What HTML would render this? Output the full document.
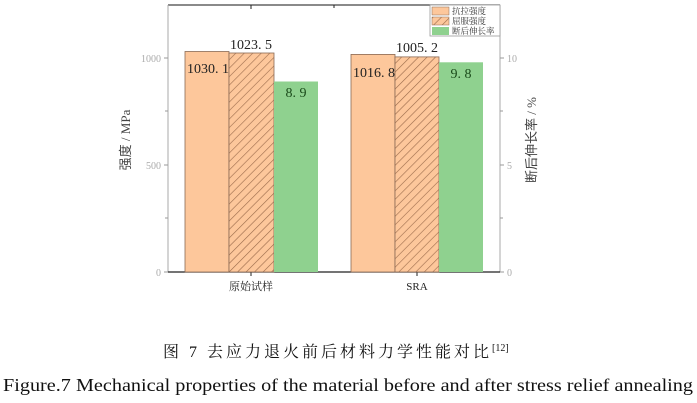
<!DOCTYPE html>
<html><head><meta charset="utf-8"><style>body{margin:0;background:#fff}svg{display:block}</style></head>
<body>
<svg width="697" height="403" xmlns="http://www.w3.org/2000/svg">
<defs><pattern id="h" patternUnits="userSpaceOnUse" width="6" height="6" patternTransform="rotate(45)"><rect width="6" height="6" fill="#fdc79b"/><line x1="0" y1="0" x2="0" y2="6" stroke="#9a6a4a" stroke-width="1.2"/></pattern></defs>
<g font-family="Liberation Serif, serif">
<line x1="168" y1="5" x2="500" y2="5" stroke="#444" stroke-width="1.2"/>
<line x1="168" y1="5" x2="168" y2="272" stroke="#aaa" stroke-width="1"/>
<line x1="500" y1="5" x2="500" y2="272" stroke="#aaa" stroke-width="1"/>
<line x1="168" y1="272" x2="500" y2="272" stroke="#222" stroke-width="1.3"/>
<g stroke="#999"><line x1="164" y1="58" x2="168" y2="58"/><line x1="164" y1="165" x2="168" y2="165"/><line x1="164" y1="272" x2="168" y2="272"/><line x1="165" y1="111" x2="168" y2="111"/><line x1="165" y1="218" x2="168" y2="218"/>
<line x1="500" y1="58" x2="504" y2="58"/><line x1="500" y1="165" x2="504" y2="165"/><line x1="500" y1="272" x2="504" y2="272"/><line x1="500" y1="111" x2="503" y2="111"/><line x1="500" y1="218" x2="503" y2="218"/></g>
<g stroke="#222"><line x1="251" y1="272" x2="251" y2="276"/><line x1="417" y1="272" x2="417" y2="276"/><line x1="251" y1="5" x2="251" y2="9"/><line x1="334" y1="5" x2="334" y2="8"/></g>
<g fill="#aaa" font-size="10"><text x="161" y="62" text-anchor="end">1000</text><text x="161" y="169" text-anchor="end">500</text><text x="161" y="276" text-anchor="end">0</text>
<text x="507" y="62">10</text><text x="507" y="169">5</text><text x="507" y="276">0</text></g>
<g stroke="#8a6a55" stroke-width="0.8">
<rect x="185" y="51.5" width="44" height="220.5" fill="#fdc79b"/>
<rect x="229" y="53" width="45" height="219" fill="url(#h)"/>
<rect x="274" y="81.5" width="44" height="190.5" fill="#8fd18f" stroke="none"/>
<rect x="351" y="54.4" width="44" height="217.6" fill="#fdc79b"/>
<rect x="395" y="56.9" width="44" height="215.1" fill="url(#h)"/>
<rect x="439" y="62.3" width="44" height="209.7" fill="#8fd18f" stroke="none"/>
</g>
<g font-size="14" fill="#222"><text x="187" y="73">1030. 1</text><text x="230" y="49">1023. 5</text><text x="296" y="97" text-anchor="middle" fill="#1a4a1a">8. 9</text>
<text x="353" y="77">1016. 8</text><text x="396" y="52">1005. 2</text><text x="461" y="78" text-anchor="middle" fill="#1a4a1a">9. 8</text></g>
<g font-size="11" fill="#222" font-family="Liberation Serif, 'Noto Serif CJK SC', serif"><text x="251" y="290" text-anchor="middle">原始试样</text><text x="417" y="290" text-anchor="middle">SRA</text></g>
<text transform="translate(130,140) rotate(-90)" font-size="13" fill="#444" text-anchor="middle" font-family="Liberation Serif, 'Noto Sans CJK SC', sans-serif">强度 / MPa</text>
<text transform="translate(536,140) rotate(-90)" font-size="13" fill="#444" text-anchor="middle" font-family="Liberation Serif, 'Noto Sans CJK SC', sans-serif">断后伸长率 / %</text>
<rect x="430" y="5" width="70" height="31" fill="#fff" stroke="#999" stroke-width="0.8"/>
<rect x="432" y="7" width="17" height="8" fill="#fdc79b" stroke="#8a6a55" stroke-width="0.5"/>
<rect x="432" y="17" width="17" height="8" fill="url(#h)" stroke="#8a6a55" stroke-width="0.5"/>
<rect x="432" y="27" width="17" height="8" fill="#8fd18f"/>
<g font-size="8.5" fill="#333" font-family="'Noto Serif CJK SC', serif"><text x="452" y="14">抗拉强度</text><text x="452" y="24">屈服强度</text><text x="452" y="34">断后伸长率</text></g>
<text x="163" y="357" font-size="16" fill="#111" letter-spacing="3" font-family="Liberation Serif, 'Noto Serif CJK SC', serif">图 7 去应力退火前后材料力学性能对比<tspan font-size="10" dy="-6" letter-spacing="0">[12]</tspan></text>
<text x="3" y="391" font-size="18" fill="#111" textLength="690" lengthAdjust="spacingAndGlyphs">Figure.7 Mechanical properties of the material before and after stress relief annealing</text>
</g>
</svg>
</body></html>
